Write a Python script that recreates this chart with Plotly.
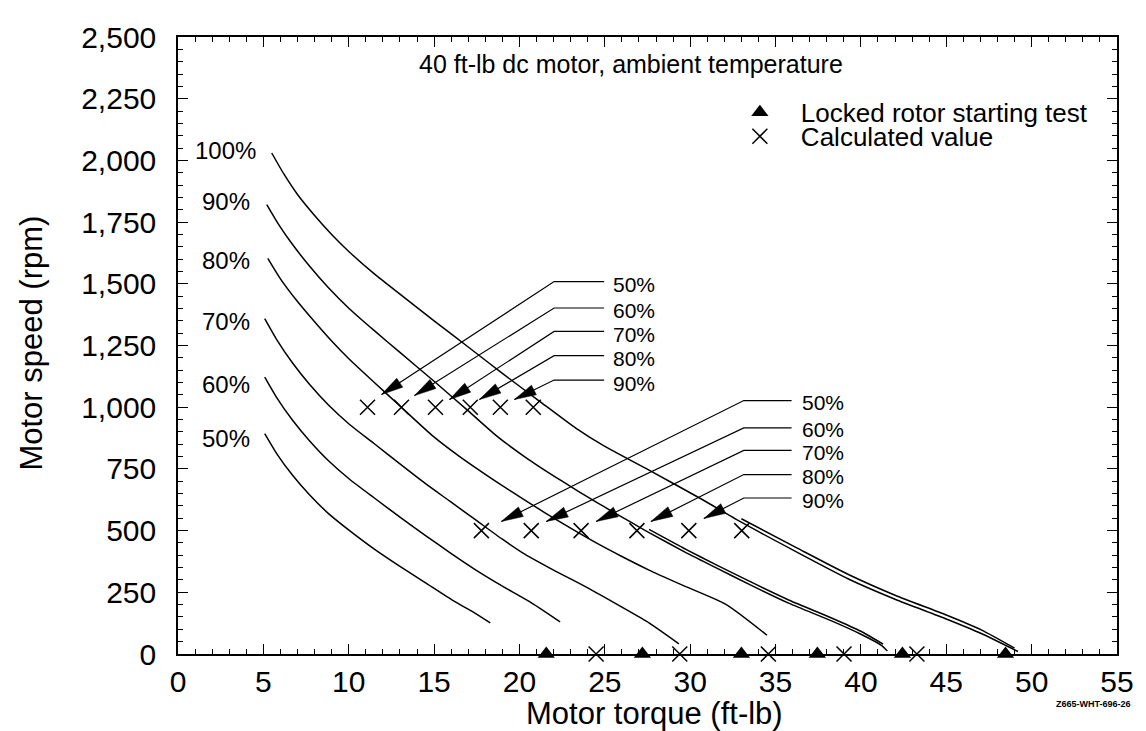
import math
import plotly.graph_objects as go

# ---------------- data ----------------
pct_names = ["100%", "90%", "80%", "70%", "60%", "50%"]

t100 = [5.49, 6.2, 7.0, 8.0, 9.0, 10.05, 11.5, 13.0, 15.0, 17.0, 19.0, 21.16, 23.32, 25.0, 27.59, 30.6, 33.02, 36.3, 39.27, 42.0, 45.0, 47.05, 49.2]
s100 = [2030, 1945, 1862, 1777, 1700, 1628, 1540, 1458, 1350, 1244, 1137, 1025, 914, 841, 745, 630, 533, 411, 304, 222, 142, 83, 10]
# return branch of the 100 % trace (hysteresis loops at high torque)
t100r = [33.0, 36.3, 39.27, 42.0, 45.0, 47.05, 49.0]
s100r = [548, 428, 322, 238, 158, 98, 24]

t90 = [5.2, 5.9, 6.7, 7.7, 8.8, 10.05, 11.5, 13.0, 15.0, 17.0, 18.64, 20.5, 22.5, 24.5, 26.5, 27.59, 29.75, 31.5, 33.43, 35.8, 38.28, 40.0, 41.2, 41.55]
s90 = [1821, 1740, 1660, 1572, 1485, 1398, 1310, 1222, 1105, 985, 885, 790, 700, 615, 535, 492, 411, 350, 283, 205, 134, 80, 35, 12]
t90r = [27.59, 29.75, 31.5, 33.43, 35.8, 38.28, 40.0, 41.3]
s90r = [505, 424, 362, 296, 218, 146, 92, 40]

t80 = [5.26, 6.0, 7.0, 8.0, 9.0, 10.05, 11.5, 13.0, 14.9, 16.5, 18.5, 20.5, 22.5, 24.5, 26.0, 27.59, 29.51, 32.09, 34.5]
s80 = [1603, 1520, 1428, 1346, 1268, 1193, 1100, 1005, 885, 800, 705, 615, 530, 450, 395, 340, 280, 201, 76]

t70 = [5.08, 5.8, 6.7, 7.7, 8.8, 10.05, 11.5, 13.0, 14.5, 15.9, 17.5, 19.0, 20.16, 22.0, 24.0, 26.0, 27.59, 29.34]
s70 = [1359, 1272, 1180, 1093, 1010, 930, 852, 770, 690, 620, 540, 465, 411, 340, 268, 190, 126, 41]

t60 = [5.08, 5.8, 6.7, 7.7, 8.8, 10.05, 11.5, 13.0, 14.5, 15.9, 17.5, 19.0, 20.57, 22.38]
s60 = [1122, 1037, 948, 864, 784, 708, 632, 555, 480, 412, 338, 275, 213, 130]

t50 = [5.08, 5.8, 6.7, 7.7, 8.8, 10.05, 11.5, 13.0, 14.5, 16.19, 17.3, 18.29]
s50 = [893, 810, 725, 645, 570, 500, 425, 355, 288, 213, 170, 126]

# locked rotor starting test (triangles, zero speed)
locked_t = [21.57, 27.2, 33.0, 37.45, 42.43, 48.47]
locked_s = [0, 0, 0, 0, 0, 0]

# calculated values (crosses)
calc_t = [11.1, 13.09, 15.08, 17.12, 18.88, 20.81,
          17.77, 20.69, 23.61, 26.88, 29.92, 33.02,
          24.49, 29.39, 34.58, 39.01, 43.28]
calc_s = [1000, 1000, 1000, 1000, 1000, 1000,
          500, 500, 500, 500, 500, 500,
          0, 0, 0, 0, 0]

# curve labels at left
lab_t = [2.8, 2.8, 2.8, 2.8, 2.8, 2.8]
lab_s = [2042, 1833, 1596, 1347, 1094, 873]

# callout arrows (upper group: 1000 rpm, lower group: 500 rpm)
call_names = ["50%", "60%", "70%", "80%", "90%"]
up_lead_s = [1509, 1402, 1307, 1209, 1110]
up_tip_t = [11.92, 13.85, 15.9, 17.65, 19.7]
up_tip_s = [1051, 1047, 1031, 1031, 1031]
up_bend_t, up_end_t, up_text_t = 22.03, 24.96, 25.37

lo_lead_s = [1027, 916, 825, 727, 632]
lo_tip_t = [18.94, 21.57, 24.49, 27.7, 30.8]
lo_tip_s = [537, 537, 537, 537, 549]
lo_bend_t, lo_end_t, lo_text_t = 33.14, 35.94, 36.46

x_ticks = list(range(0, 56, 5))
y_ticks = list(range(0, 2501, 250))
X_RANGE = [0, 55]
Y_RANGE = [0, 2500]

FONT = "Liberation Sans, Arial, Helvetica, sans-serif"

# layout geometry (page has an 8px body margin, so the figure is sized to end at the window edges)
FIG_W, FIG_H = 1138, 723
MARGIN = dict(l=170, r=26, t=13, b=77)
plot_w = FIG_W - MARGIN["l"] - MARGIN["r"]
plot_h = FIG_H - MARGIN["t"] - MARGIN["b"]
kx = plot_w / (X_RANGE[1] - X_RANGE[0])   # px per ft-lb
ky = plot_h / (Y_RANGE[1] - Y_RANGE[0])   # px per rpm
HEAD_LEN, HEAD_HALF_W = 22.0, 5.5         # arrowhead size in px

fig = go.Figure()

curves = [(t100, s100), (t90, s90), (t80, s80), (t70, s70), (t60, s60), (t50, s50),
          (t100r, s100r), (t90r, s90r)]
for tt, ss in curves:
    fig.add_trace(go.Scatter(x=tt, y=ss, mode="lines",
                             line=dict(color="black", width=1.5, shape="spline", smoothing=0.6),
                             showlegend=False, hoverinfo="skip"))


def arrow_head(tip_x, tip_y, from_x, from_y):
    # direction from tip back towards the leader, computed in screen pixels
    dx = (from_x - tip_x) * kx
    dy = (from_y - tip_y) * ky
    d = math.hypot(dx, dy)
    ux, uy = dx / d, dy / d
    nx, ny = -uy, ux
    bx, by = ux * HEAD_LEN, uy * HEAD_LEN
    p1 = (tip_x + (bx + nx * HEAD_HALF_W) / kx, tip_y + (by + ny * HEAD_HALF_W) / ky)
    p2 = (tip_x + (bx - nx * HEAD_HALF_W) / kx, tip_y + (by - ny * HEAD_HALF_W) / ky)
    return [tip_x, p1[0], p2[0], tip_x], [tip_y, p1[1], p2[1], tip_y]


# callout leaders with arrowheads
for lead_s, tip_t, tip_s, bend_t, end_t in [(up_lead_s, up_tip_t, up_tip_s, up_bend_t, up_end_t),
                                            (lo_lead_s, lo_tip_t, lo_tip_s, lo_bend_t, lo_end_t)]:
    for ls, tt, ts in zip(lead_s, tip_t, tip_s):
        fig.add_trace(go.Scatter(x=[end_t, bend_t, tt], y=[ls, ls, ts], mode="lines",
                                 line=dict(color="black", width=1.2),
                                 showlegend=False, hoverinfo="skip"))
        hx, hy = arrow_head(tt, ts, bend_t, ls)
        fig.add_trace(go.Scatter(x=hx, y=hy, mode="lines", fill="toself", fillcolor="black",
                                 line=dict(color="black", width=0.5),
                                 showlegend=False, hoverinfo="skip"))

fig.add_trace(go.Scatter(x=locked_t, y=locked_s, mode="markers", name="Locked rotor starting test",
                         marker=dict(symbol="triangle-up", size=15, color="black"), cliponaxis=False,
                         legend="legend"))
fig.add_trace(go.Scatter(x=calc_t, y=calc_s, mode="markers", name="Calculated value",
                         marker=dict(symbol="x-thin-open", size=15, color="black", line=dict(width=1.5, color="black")),
                         cliponaxis=False, legend="legend2"))

annotations = []
for name, tt, ss in zip(pct_names, lab_t, lab_s):
    annotations.append(dict(x=tt, y=ss, xref="x", yref="y", text=name, showarrow=False,
                            font=dict(size=24, color="black", family=FONT), xanchor="center", yanchor="middle"))
for name, ls in zip(call_names, up_lead_s):
    annotations.append(dict(x=up_text_t, y=ls, xref="x", yref="y", text=name, showarrow=False, yshift=-3,
                            font=dict(size=21, color="black", family=FONT), xanchor="left", yanchor="middle"))
for name, ls in zip(call_names, lo_lead_s):
    annotations.append(dict(x=lo_text_t, y=ls, xref="x", yref="y", text=name, showarrow=False, yshift=-2,
                            font=dict(size=21, color="black", family=FONT), xanchor="left", yanchor="middle"))
annotations.append(dict(x=0.482, y=0.956, xref="paper", yref="paper", text="40 ft-lb dc motor, ambient temperature",
                        showarrow=False, font=dict(size=25, color="black", family=FONT), xanchor="center", yanchor="middle"))
annotations.append(dict(x=0.507, y=-0.097, xref="paper", yref="paper", text="Motor torque (ft-lb)",
                        showarrow=False, font=dict(size=31, color="black", family=FONT), xanchor="center", yanchor="middle"))
annotations.append(dict(x=-0.157, y=0.504, xref="paper", yref="paper", text="Motor speed (rpm)", textangle=-90,
                        showarrow=False, font=dict(size=31, color="black", family=FONT), xanchor="center", yanchor="middle"))
annotations.append(dict(x=0.975, y=-0.0806, xref="paper", yref="paper", text="<b>Z665-WHT-696-26</b>",
                        showarrow=False, font=dict(size=9, color="black", family=FONT), xanchor="center", yanchor="middle"))

axis_common = dict(showline=True, linecolor="black", linewidth=1.5, mirror="allticks", ticks="inside",
                   tickcolor="black", tickwidth=1.2, ticklen=10, showgrid=False, zeroline=False,
                   ticklabeloverflow="allow",
                   tickfont=dict(size=30, color="black", family=FONT))

legend_common = dict(xanchor="left", yanchor="middle", bgcolor="rgba(0,0,0,0)", itemwidth=72,
                     font=dict(size=26, color="black", family=FONT))

fig.update_layout(
    width=FIG_W, height=FIG_H,
    margin=MARGIN,
    paper_bgcolor="white", plot_bgcolor="white",
    font=dict(family=FONT, color="black"),
    xaxis=dict(range=X_RANGE, tickvals=x_ticks, ticktext=[str(v) for v in x_ticks],
               minor=dict(dtick=1, ticks="inside", ticklen=5, tickcolor="black", tickwidth=1),
               ticklabelstandoff=0, **axis_common),
    yaxis=dict(range=Y_RANGE, tickvals=y_ticks, ticktext=[f"{v:,}" for v in y_ticks],
               minor=dict(dtick=50, ticks="inside", ticklen=5, tickcolor="black", tickwidth=1),
               ticklabelstandoff=14, **axis_common),
    legend=dict(x=0.576, y=0.878, **legend_common),
    legend2=dict(x=0.576, y=0.839, **legend_common),
    annotations=annotations,
    showlegend=True,
)

fig.write_html("out.html")
